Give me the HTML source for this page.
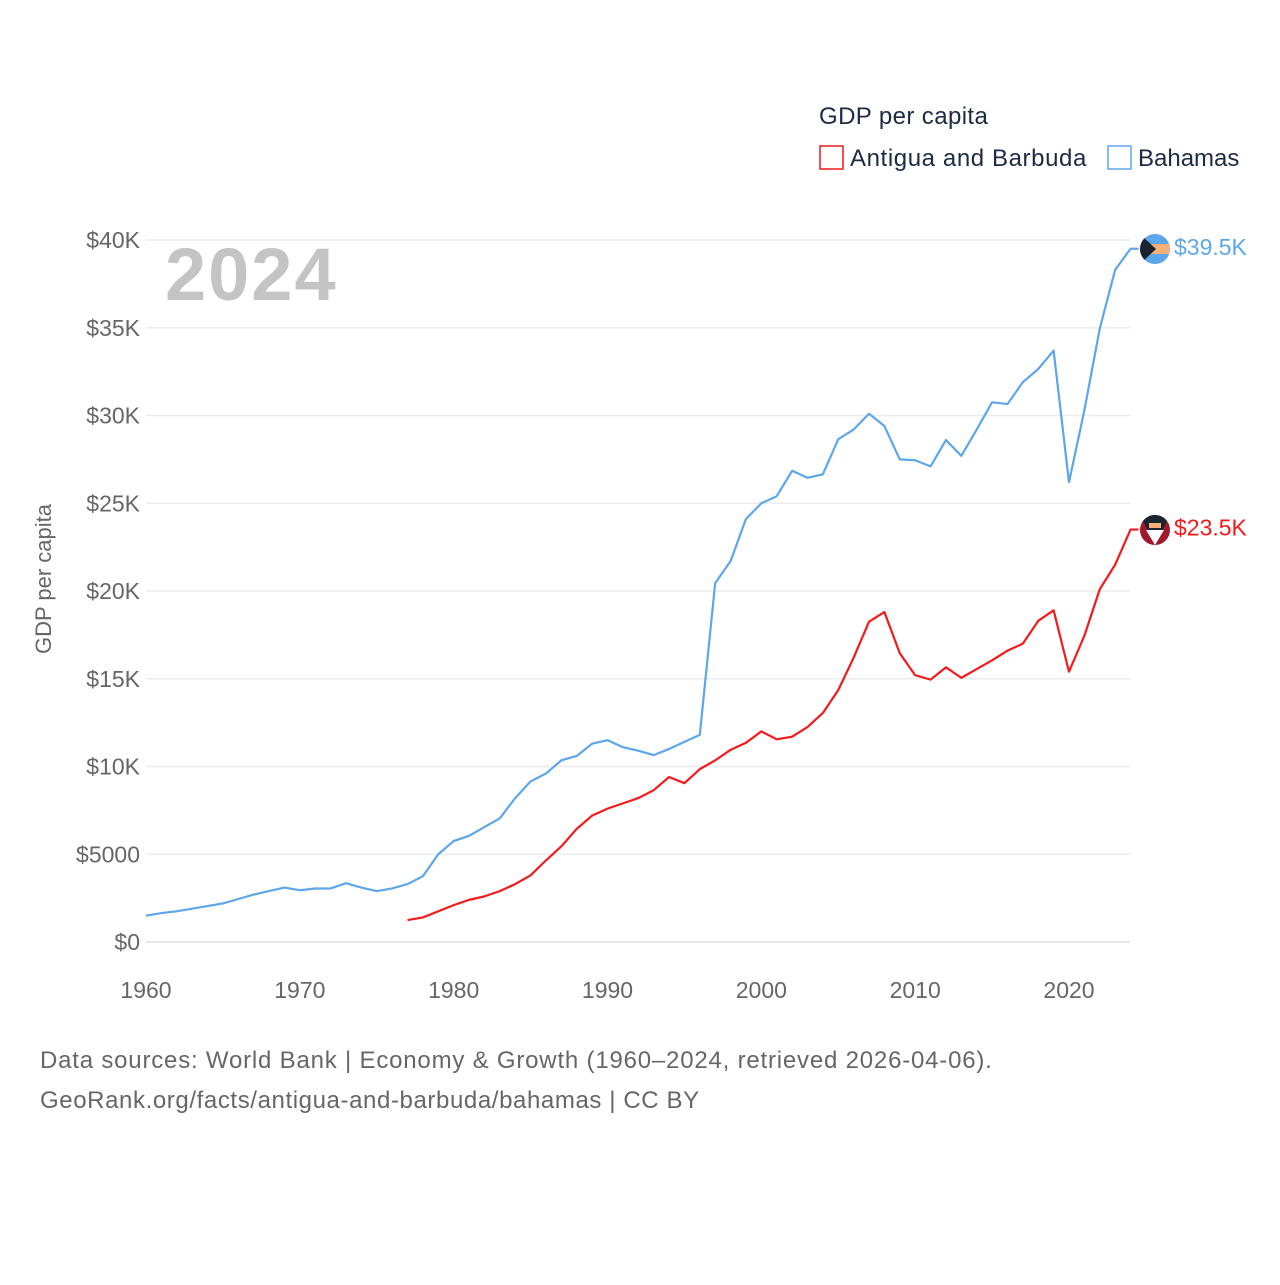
<!DOCTYPE html>
<html><head><meta charset="utf-8"><style>
body{margin:0;background:#fff;font-family:"Liberation Sans",sans-serif}
svg text{font-family:"Liberation Sans",sans-serif}
</style></head><body>
<svg id="chart" width="1280" height="1280" xmlns="http://www.w3.org/2000/svg">
<defs>
<clipPath id="cb"><circle cx="1155" cy="249" r="15"/></clipPath>
<clipPath id="ca"><circle cx="1155" cy="530" r="15"/></clipPath>
</defs>
<text x="819" y="124" font-size="24" fill="#1d2a44" letter-spacing="0.4">GDP per capita</text>
<g><rect x="820" y="146" width="23" height="23" fill="none" stroke="#f21a1a" stroke-width="1.5"/><text x="850" y="166" font-size="24" fill="#1d2a44" letter-spacing="0.6">Antigua and Barbuda</text></g>
<g><rect x="1108" y="146" width="23" height="23" fill="none" stroke="#5ea6ea" stroke-width="1.5"/><text x="1138" y="166" font-size="24" fill="#1d2a44">Bahamas</text></g>
<text x="165" y="300" font-size="74" font-weight="bold" fill="#c4c4c4" letter-spacing="2">2024</text>
<text transform="translate(51,579) rotate(-90)" text-anchor="middle" font-size="22" fill="#666">GDP per capita</text>
<g id="grid"></g><g id="ticks"></g><g id="lines"></g>
<g clip-path="url(#cb)">
<rect x="1140" y="234" width="30" height="30" fill="#5ea6ea"/>
<rect x="1140" y="244" width="30" height="10" fill="#f5b07a"/>
<polygon points="1140,234 1156,249 1140,264" fill="#1a2430"/>
</g>
<g clip-path="url(#ca)">
<rect x="1140" y="515" width="30" height="30" fill="#a0182a"/>
<polygon points="1140,515 1170,515 1155,545" fill="#1a2430"/>
<polygon points="1146,530 1164,530 1155,545" fill="#fff"/>
<rect x="1149" y="523" width="12" height="5" fill="#f5b07a"/>
</g>
<text x="40" y="1068" font-size="24" fill="#666" letter-spacing="0.8">Data sources: World Bank | Economy &amp; Growth (1960–2024, retrieved 2026-04-06).</text>
<text x="40" y="1108" font-size="24" fill="#666" letter-spacing="0.6">GeoRank.org/facts/antigua-and-barbuda/bahamas | CC BY</text>
</svg>
<script>
const yTicks=[0,5000,10000,15000,20000,25000,30000,35000,40000];
const yTickLabels=["$0","$5000","$10K","$15K","$20K","$25K","$30K","$35K","$40K"];
const xTicks=[1960,1970,1980,1990,2000,2010,2020];
const bahamasStart=1960;
const bahamas=[1.5,1.65,1.75,1.9,2.05,2.2,2.45,2.7,2.9,3.1,2.95,3.05,3.05,3.35,3.1,2.9,3.05,3.3,3.75,5.0,5.75,6.05,6.55,7.05,8.2,9.15,9.6,10.35,10.6,11.3,11.5,11.1,10.9,10.65,11.0,11.4,11.8,20.45,21.7,24.1,25.0,25.4,26.85,26.45,26.65,28.65,29.2,30.1,29.4,27.5,27.45,27.1,28.6,27.7,29.2,30.75,30.65,31.9,32.65,33.7,26.2,30.3,34.95,38.3,39.5];
const antiguaStart=1977;
const antigua=[1.25,1.4,1.75,2.1,2.4,2.6,2.9,3.3,3.8,4.65,5.45,6.45,7.2,7.6,7.9,8.2,8.65,9.4,9.05,9.85,10.35,10.95,11.35,12.0,11.55,11.7,12.25,13.05,14.35,16.2,18.25,18.8,16.45,15.2,14.95,15.65,15.05,15.55,16.05,16.6,17.0,18.3,18.9,15.4,17.45,20.1,21.5,23.5];
const xS=y=>146+(y-1960)*(1069-146)/60;
const yS=v=>942-v*(942-240)/40000;
const NS="http://www.w3.org/2000/svg";
function mk(t,a,p){const e=document.createElementNS(NS,t);for(const k in a)e.setAttribute(k,a[k]);p.appendChild(e);return e;}
const grid=document.getElementById('grid'),ticks=document.getElementById('ticks'),lines=document.getElementById('lines');
yTicks.forEach((v,i)=>{
 const l=mk('line',{x1:146,x2:1130,y1:yS(v),y2:yS(v),stroke:v===0?'#ddd':'#ececec','stroke-width':1.5},grid);
 
 
 const t=mk('text',{x:140,y:yS(v)+8,'text-anchor':'end','font-size':23,fill:'#666'},ticks);
 t.textContent=yTickLabels[i];
 
 
});
xTicks.forEach(y=>{
 const t=mk('text',{x:xS(y),y:998,'text-anchor':'middle','font-size':23,fill:'#666'},ticks);
 t.textContent=y;
 
 
});
function series(vals,start,color,name,label){
 const pts=vals.map((v,i)=>xS(start+i)+','+yS(v*1000));
 const last=vals[vals.length-1];
 pts.push((xS(start+vals.length-1)+8)+','+yS(last*1000));
 const p=mk('polyline',{points:pts.join(' '),fill:'none',stroke:color,'stroke-width':2.2,'stroke-linejoin':'round'},lines);
 
 
 const cy=yS(last*1000);
 const t=mk('text',{x:1174,y:cy+6,'font-size':23,fill:color},lines);
 t.textContent=label;
 
 
}
series(bahamas,bahamasStart,'#5ea6ea','bahamas','$39.5K');
series(antigua,antiguaStart,'#f21a1a','antigua','$23.5K');
</script>
</body></html>
